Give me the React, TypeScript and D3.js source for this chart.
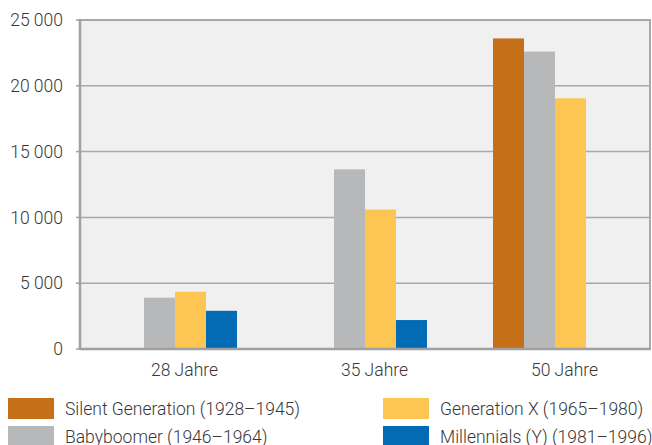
import React from "react";
import * as d3 from "d3";

const categories = ["28 Jahre", "35 Jahre", "50 Jahre"];
const seriesNames = [
  "Silent Generation (1928–1945)",
  "Babyboomer (1946–1964)",
  "Generation X (1965–1980)",
  "Millennials (Y) (1981–1996)",
];
const silent = [null, null, 23600];
const babyboomer = [3900, 13650, 22600];
const genX = [4350, 10600, 19050];
const millennials = [2900, 2200, null];
const colors = ["#C57018", "#B7B8BA", "#FDC652", "#036BB3"];
const yTicks = [0, 5000, 10000, 15000, 20000, 25000];

const W = 652;
const H = 445;
const m = { left: 80, right: 651, top: 20, bottom: 349 };

export default function App() {
  const series = [silent, babyboomer, genX, millennials];
  const x0 = d3.scaleBand<string>().domain(categories).range([m.left, m.right - 1]).paddingInner(0).paddingOuter(0);
  const barW = 31;
  const x1 = d3
    .scaleBand<number>()
    .domain(d3.range(series.length))
    .range([-barW * 2, barW * 2]);
  const y = d3.scaleLinear().domain([0, 25000]).range([m.bottom, m.top]);
  const fmt = (v: number) => d3.format(",")(v).replace(/,/g, " ");
  const font = "Roboto, sans-serif";
  const textColor = "#383838";
  const fs = 17.5;
  const legendFs = 17.5;

  return (
    <div style={{ position: "absolute", left: 0, top: 0 }}>
      <svg width={W} height={H} style={{ display: "block" }}>
        <rect x={m.left} y={m.top} width={m.right - m.left - 1} height={m.bottom - m.top} fill="#EFF0EF" />
        {yTicks.slice(1, -1).map((t) => (
          <line key={t} x1={m.left} x2={m.right - 1} y1={y(t)} y2={y(t)} stroke="#A8A8A8" strokeWidth={1.5} />
        ))}
        {series.map((vals, si) =>
          vals.map((v, ci) =>
            v == null ? null : (
              <rect
                key={`${si}-${ci}`}
                x={x0(categories[ci])! + x0.bandwidth() / 2 + x1(si)!}
                y={y(v)}
                width={x1.bandwidth()}
                height={y(0) - y(v)}
                fill={colors[si]}
              />
            )
          )
        )}
        {/* frame */}
        <line x1={m.left} x2={m.right} y1={m.top} y2={m.top} stroke="#A8A8A8" strokeWidth={2} />
        <line x1={m.right - 1} x2={m.right - 1} y1={m.top} y2={m.bottom} stroke="#A8A8A8" strokeWidth={2} />
        <line x1={m.left} x2={m.left} y1={m.top - 1} y2={m.bottom + 1} stroke="#A0A0A0" strokeWidth={2.5} />
        <line x1={m.left} x2={m.right} y1={m.bottom} y2={m.bottom} stroke="#A0A0A0" strokeWidth={2.5} />
        {yTicks.map((t) => (
          <g key={t}>
            <line x1={m.left - 4} x2={m.left} y1={y(t)} y2={y(t)} stroke="#A0A0A0" strokeWidth={1.5} />
            <text
              x={63}
              y={y(t)}
              dy="0.35em"
              textAnchor="end"
              fontFamily={font}
              fontSize={fs}
              fontWeight={300}
              fill={textColor}
            >
              {fmt(t)}
            </text>
          </g>
        ))}
        {categories.map((c) => (
          <text
            key={c}
            x={x0(c)! + x0.bandwidth() / 2 + 9.5}
            y={370}
            dy="0.35em"
            textAnchor="middle"
            fontFamily={font}
            fontSize={fs}
            fontWeight={300}
            fill={textColor}
          >
            {c}
          </text>
        ))}
        {seriesNames.map((s, i) => {
          const col = i === 0 || i === 1 ? 0 : 1;
          const row = i === 0 || i === 2 ? 0 : 1;
          const sx = col === 0 ? 8 : 383;
          const sy = 398 + row * 28;
          return (
            <g key={s}>
              <rect x={sx} y={sy} width={46} height={21} fill={colors[i]} />
              <text
                x={sx + 57}
                y={sy + 11}
                dy="0.35em"
                fontFamily={font}
                fontSize={legendFs}
                fontWeight={300}
                fill={textColor}
              >
                {s}
              </text>
            </g>
          );
        })}
      </svg>
    </div>
  );
}
